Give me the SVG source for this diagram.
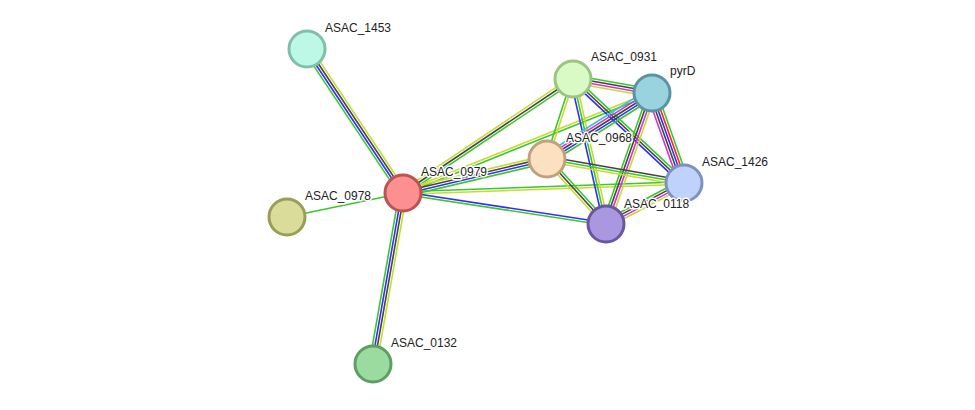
<svg xmlns="http://www.w3.org/2000/svg" width="975" height="410" viewBox="0 0 975 410">
<style>
line{stroke-width:1.6;fill:none}
.g{stroke:#3ec62c}.b{stroke:#3030f0}.k{stroke:#444444}.y{stroke:#c4dc34}.m{stroke:#d233d2}.c{stroke:#3cc4d6}.r{stroke:#ff2020}
circle{stroke-width:3}
text{font-family:"Liberation Sans",Arial,sans-serif;font-size:12px;fill:#222;stroke:#fff;stroke-width:3;paint-order:stroke;stroke-linejoin:round}
</style>
<rect width="975" height="410" fill="#fff"/>
<g id="connectors">
<g transform="translate(307,49) rotate(56.31)"><line class="g" x2="173.1" y1="3.75" y2="3.75"/><line class="b" x2="173.1" y1="1.25" y2="1.25"/><line class="k" x2="173.1" y1="-1.25" y2="-1.25"/><line class="y" x2="173.1" y1="-3.75" y2="-3.75"/></g>
<g transform="translate(287,217) rotate(-11.69)"><line class="g" x2="118.5"/></g>
<g transform="translate(403,193) rotate(99.95)"><line class="g" x2="173.6" y1="3.75" y2="3.75"/><line class="b" x2="173.6" y1="1.25" y2="1.25"/><line class="k" x2="173.6" y1="-1.25" y2="-1.25"/><line class="y" x2="173.6" y1="-3.75" y2="-3.75"/></g>
<g transform="translate(403,193) rotate(-33.84)"><line class="y" x2="204.7" y1="-2.5" y2="-2.5"/><line class="k" x2="204.7"/><line class="g" x2="204.7" y1="2.5" y2="2.5"/></g>
<g transform="translate(403,193) rotate(-21.88)"><line class="y" x2="268.3" y1="-1.25" y2="-1.25"/><line class="g" x2="268.3" y1="1.25" y2="1.25"/></g>
<g transform="translate(403,193) rotate(-13.28)"><line class="y" x2="148" y1="-3.75" y2="-3.75"/><line class="k" x2="148" y1="-1.25" y2="-1.25"/><line class="b" x2="148" y1="1.25" y2="1.25"/><line class="g" x2="148" y1="3.75" y2="3.75"/></g>
<g transform="translate(403,193) rotate(-2.04)"><line class="g" x2="281.2" y1="-1.25" y2="-1.25"/><line class="y" x2="281.2" y1="1.25" y2="1.25"/></g>
<g transform="translate(403,193) rotate(8.68)"><line class="b" x2="205.4" y1="-1.25" y2="-1.25"/><line class="g" x2="205.4" y1="1.25" y2="1.25"/></g>
<g transform="translate(573,79) rotate(10.05)"><line class="g" x2="80.2" y1="-3.75" y2="-3.75"/><line class="k" x2="80.2" y1="-1.25" y2="-1.25"/><line class="m" x2="80.2" y1="1.25" y2="1.25"/><line class="y" x2="80.2" y1="3.75" y2="3.75"/></g>
<g transform="translate(573,79) rotate(108)"><line class="y" x2="84.1" y1="-1.25" y2="-1.25"/><line class="g" x2="84.1" y1="1.25" y2="1.25"/></g>
<g transform="translate(573,79) rotate(43.13)"><line class="g" x2="152.1" y1="-2.5" y2="-2.5"/><line class="k" x2="152.1"/><line class="b" x2="152.1" y1="2.5" y2="2.5"/></g>
<g transform="translate(573,79) rotate(77.18)"><line class="y" x2="148.7" y1="-2.5" y2="-2.5"/><line class="g" x2="148.7"/><line class="b" x2="148.7" y1="2.5" y2="2.5"/></g>
<g transform="translate(652,93) rotate(147.85)"><line class="g" x2="124" y1="-5" y2="-5"/><line class="b" x2="124" y1="-2.5" y2="-2.5"/><line class="k" x2="124"/><line class="m" x2="124" y1="2.5" y2="2.5"/><line class="c" x2="124" y1="5" y2="5"/></g>
<g transform="translate(652,93) rotate(70.43)"><line class="g" x2="95.5" y1="-5" y2="-5"/><line class="r" x2="95.5" y1="-2.5" y2="-2.5"/><line class="b" x2="95.5"/><line class="k" x2="95.5" y1="2.5" y2="2.5"/><line class="m" x2="95.5" y1="5" y2="5"/></g>
<g transform="translate(652,93) rotate(109.35)"><line class="y" x2="138.8" y1="-3.75" y2="-3.75"/><line class="m" x2="138.8" y1="-1.25" y2="-1.25"/><line class="k" x2="138.8" y1="1.25" y2="1.25"/><line class="g" x2="138.8" y1="3.75" y2="3.75"/></g>
<g transform="translate(547,159) rotate(9.94)"><line class="k" x2="139.1" y1="-2.5" y2="-2.5"/><line class="g" x2="139.1"/><line class="y" x2="139.1" y1="2.5" y2="2.5"/></g>
<g transform="translate(547,159) rotate(47.77)"><line class="g" x2="87.8" y1="-2.5" y2="-2.5"/><line class="k" x2="87.8"/><line class="y" x2="87.8" y1="2.5" y2="2.5"/></g>
<g transform="translate(684,183) rotate(152.27)"><line class="g" x2="88.1" y1="3.75" y2="3.75"/><line class="k" x2="88.1" y1="1.25" y2="1.25"/><line class="m" x2="88.1" y1="-1.25" y2="-1.25"/><line class="y" x2="88.1" y1="-3.75" y2="-3.75"/></g>
</g>
<g id="ASAC_1453"><circle cx="307" cy="49" r="18" fill="#bdf7e5" stroke="#80c0aa"/><text x="325" y="32">ASAC_1453</text></g>
<g id="ASAC_0931"><circle cx="573" cy="79" r="18" fill="#d9f9c5" stroke="#9bc482"/><text x="591" y="61">ASAC_0931</text></g>
<g id="pyrD"><circle cx="652" cy="93" r="18" fill="#9ad3e0" stroke="#5b93a2"/><text x="670" y="75">pyrD</text></g>
<g id="ASAC_0968"><circle cx="547" cy="159" r="18" fill="#fde0c0" stroke="#bea180"/><text x="566" y="142">ASAC_0968</text></g>
<g id="ASAC_1426"><circle cx="684" cy="183" r="18" fill="#bfd2fb" stroke="#7e92c2"/><text x="702" y="166">ASAC_1426</text></g>
<g id="ASAC_0979"><circle cx="403" cy="193" r="18" fill="#fc9090" stroke="#bc5252"/><text x="421" y="176">ASAC_0979</text></g>
<g id="ASAC_0978"><circle cx="287" cy="217" r="18" fill="#d9dd99" stroke="#999d58"/><text x="305" y="200">ASAC_0978</text></g>
<g id="ASAC_0118"><circle cx="606" cy="224" r="18" fill="#a997df" stroke="#6a55a2"/><text x="624" y="208">ASAC_0118</text></g>
<g id="ASAC_0132"><circle cx="373" cy="364" r="18" fill="#9bdb9f" stroke="#5d9e62"/><text x="391" y="347">ASAC_0132</text></g>
</svg>
